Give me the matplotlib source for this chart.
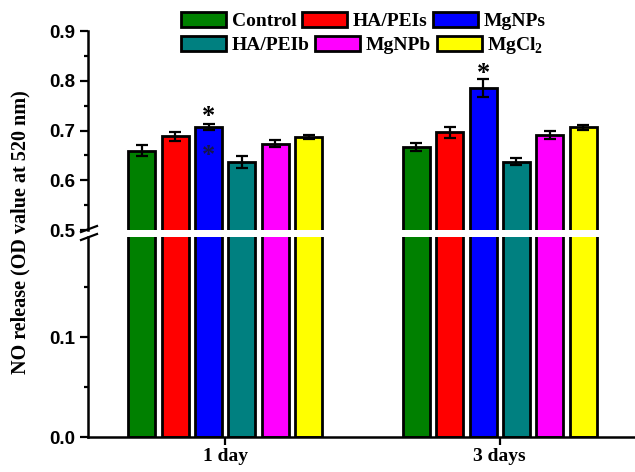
import numpy as np
import matplotlib
matplotlib.use('Agg')
import matplotlib.pyplot as plt
from matplotlib.ticker import MultipleLocator, FixedLocator

plt.rcParams['mathtext.fontset'] = 'custom'
plt.rcParams['mathtext.rm'] = 'Liberation Serif:bold'
plt.rcParams['mathtext.bf'] = 'Liberation Serif:bold'

# data
days = ['1 day', '3 days']
groups = ['Control', 'HA/PEIs', 'MgNPs', 'HA/PEIb', 'MgNPb', 'MgCl$_\\mathbf{2}$']
colors = ['#008000', '#FF0000', '#0000FF', '#008080', '#FF00FF', '#FFFF00']
day1 = [0.659, 0.688, 0.708, 0.636, 0.673, 0.686]
day1_err = [0.011, 0.009, 0.006, 0.012, 0.007, 0.004]
day3 = [0.667, 0.696, 0.785, 0.637, 0.690, 0.707]
day3_err = [0.008, 0.011, 0.018, 0.007, 0.008, 0.005]

W, H = 635, 472
fig = plt.figure(figsize=(W / 100, H / 100), dpi=100)

def px_axes(left, top, right, bottom):
    return fig.add_axes([left / W, 1 - bottom / H, (right - left) / W, (bottom - top) / H])

ax_top = px_axes(88, 31, 637, 230)
ax_bot = px_axes(88, 237, 637, 437)

x = np.arange(len(days))
pitch = 0.1216
width = 0.0985
vals = np.array([day1, day3])
errs = np.array([day1_err, day3_err])

tick_font = dict(fontfamily='Liberation Sans', fontweight='bold', fontsize=13.5)

for ax in (ax_top, ax_bot):
    for i in range(len(groups)):
        ax.bar(x + (i - 2.5) * pitch, vals[:, i], width, color=colors[i],
               edgecolor='black', linewidth=2.0, label=groups[i], zorder=2)
        ax.errorbar(x + (i - 2.5) * pitch, vals[:, i], yerr=errs[:, i], fmt='none',
                    ecolor='black', elinewidth=1.6, capsize=4, capthick=1.6, zorder=3)
    ax.set_xlim(-0.5, 1.5)
    ax.spines['top'].set_visible(False)
    ax.spines['right'].set_visible(False)
    ax.spines['left'].set_linewidth(1.8)
    ax.spines['bottom'].set_linewidth(1.8)
    ax.tick_params(axis='y', which='major', direction='out', length=6, width=1.6, pad=3)
    ax.tick_params(axis='y', which='minor', direction='out', length=3, width=1.6)

ax_top.set_ylim(0.5, 0.9)
ax_top.yaxis.set_major_locator(FixedLocator([0.5, 0.6, 0.7, 0.8, 0.9]))
ax_top.yaxis.set_minor_locator(MultipleLocator(0.05))
ax_top.set_yticklabels(['0.5', '0.6', '0.7', '0.8', '0.9'], **tick_font)
ax_top.spines['bottom'].set_visible(False)
ax_top.set_xticks([])

ax_bot.set_ylim(0, 0.2)
ax_bot.yaxis.set_major_locator(FixedLocator([0.0, 0.1]))
ax_bot.yaxis.set_minor_locator(FixedLocator([0.05, 0.15]))
ax_bot.set_yticklabels(['0.0', '0.1'], **tick_font)
ax_bot.set_xticks(x)
ax_bot.set_xticklabels(days, fontfamily='Liberation Serif', fontweight='bold', fontsize=14)
ax_bot.tick_params(axis='x', direction='out', length=6, width=1.6, pad=2)

# asterisks
star = dict(ha='center', va='center', fontsize=19, fontfamily='Liberation Serif',
            fontweight='bold')
ax_top.text(x[0] - 0.5 * pitch, 0.728, '*', **star)
ax_top.text(x[0] - 0.5 * pitch, 0.650, '*', color='#141450', **star)
ax_top.text(x[1] - 0.5 * pitch, 0.815, '*', **star)

# axis break marks
for yy in (229, 237):
    fig.add_artist(plt.Line2D([81 / W, 97 / W], [1 - (yy + 3) / H, 1 - (yy - 3) / H],
                              color='black', lw=1.6))

fig.text(20 / W, 1 - 232 / H, 'NO release (OD value at 520 nm)', rotation=90,
         ha='center', va='center', fontsize=14.5, fontfamily='Liberation Serif',
         fontweight='bold')

# legend, two rows
handles, labels = ax_top.get_legend_handles_labels()
for row, yc in ((0, 21), (1, 46)):
    idx = [0, 1, 2] if row == 0 else [3, 4, 5]
    fig.legend([handles[i] for i in idx], [labels[i] for i in idx],
               loc='center left', bbox_to_anchor=(181 / W, 1 - yc / H), ncol=3,
               frameon=False, borderpad=0, borderaxespad=0,
               handlelength=2.3, handleheight=0.8, handletextpad=0.3,
               columnspacing=0.3,
               prop={'family': 'Liberation Serif', 'weight': 'bold', 'size': 14})

fig.savefig('out.png', dpi=100)
